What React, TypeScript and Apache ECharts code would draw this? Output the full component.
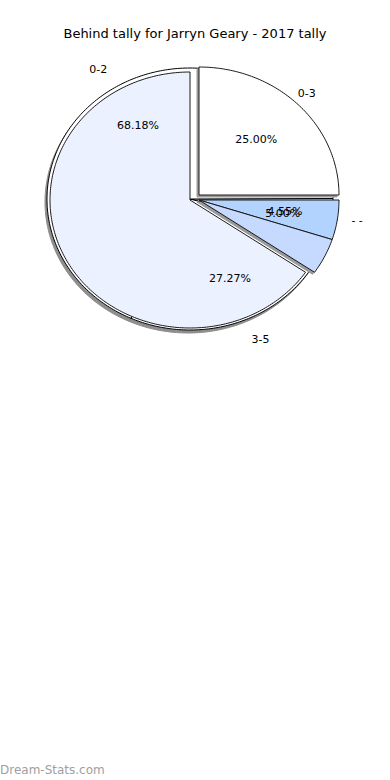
import React, { useEffect, useRef } from 'react';
import * as echarts from 'echarts';

const chartTitle = 'Behind tally for Jarryn Geary - 2017 tally';
const watermark = 'Dream-Stats.com';

// Front pie, clockwise from 12 o'clock (percent of a full turn)
const frontNames = ['0-3', '- -', '- -', '0-2'];
const frontShares = [25.0, 5.0, 4.55, 65.45];

// Back pie, clockwise from 3 o'clock (percent of a full turn)
const backNames = ['- -', '3-5', '0-2'];
const backShares = [4.55, 27.27, 68.18];

// Geometry and styling
const FRONT = { cx: 190, cy: 200, rx: 140, ry: 128, start: 90 };
const BACK = { cx: 190, cy: 199, rx: 143, ry: 131, start: 0.2 };
const frontColors = ['#ffffff', '#b3d3ff', '#c6daff', '#ebf1fe'];
const frontOffsets = [
  [9, -5],
  [9, 0],
  [9, 0],
  [0, 0],
];
const frontHasShadow = [true, true, true, false];
const frontPctShown = [true, true, false, false];
const frontNameShown = [true, false, false, false];
const PCT_R = 0.67;
const NAME_R = 1.18;
const LABEL_FONT = '11px "DejaVu Sans"';

type Arc = { from: number; to: number };

function toArcs(shares: number[], start: number): Arc[] {
  let a = start;
  return shares.map((s) => {
    const from = a;
    a -= s * 3.6;
    return { from, to: a };
  });
}

function sectorPoints(cx: number, cy: number, rx: number, ry: number, from: number, to: number) {
  const pts: number[][] = [[cx, cy]];
  const n = Math.max(2, Math.ceil(Math.abs(from - to)));
  for (let i = 0; i <= n; i++) {
    const t = ((from + ((to - from) * i) / n) * Math.PI) / 180;
    pts.push([cx + rx * Math.cos(t), cy - ry * Math.sin(t)]);
  }
  return pts;
}

function polarPoint(geo: typeof FRONT, angle: number, k: number) {
  const t = (angle * Math.PI) / 180;
  return [geo.cx + geo.rx * k * Math.cos(t), geo.cy - geo.ry * k * Math.sin(t)];
}

const frontArcs = toArcs(frontShares, FRONT.start);
const backArcs = toArcs(backShares, BACK.start);

type LabelSpec = { text: string; pos: number[] };

function buildLabels(): LabelSpec[] {
  const out: LabelSpec[] = [];
  backShares.forEach((v, i) => {
    const mid = (backArcs[i].from + backArcs[i].to) / 2;
    out.push({ text: v.toFixed(2) + '%', pos: polarPoint(BACK, mid, PCT_R) });
    out.push({ text: backNames[i], pos: polarPoint(BACK, mid, NAME_R) });
  });
  frontShares.forEach((v, i) => {
    const mid = (frontArcs[i].from + frontArcs[i].to) / 2;
    if (frontPctShown[i]) out.push({ text: v.toFixed(2) + '%', pos: polarPoint(FRONT, mid, PCT_R) });
    if (frontNameShown[i]) out.push({ text: frontNames[i], pos: polarPoint(FRONT, mid, NAME_R) });
  });
  return out;
}

export default function App() {
  const ref = useRef<HTMLDivElement>(null);

  useEffect(() => {
    if (!ref.current) return;
    const chart = echarts.init(ref.current, undefined, { renderer: 'svg' });
    const labels = buildLabels();

    const option: any = {
      animation: false,
      backgroundColor: '#ffffff',
      title: {
        text: chartTitle,
        left: 'center',
        top: 22,
        textStyle: { fontSize: 13, fontWeight: 'normal', fontFamily: 'DejaVu Sans', color: '#000' },
      },
      graphic: [
        {
          type: 'text',
          left: 0,
          top: 764,
          style: { text: watermark, font: '12px "DejaVu Sans"', fill: '#a0a0a0' },
        },
      ],
      series: [
        {
          type: 'custom',
          name: 'back-shadow',
          coordinateSystem: 'none',
          z: 1,
          silent: true,
          data: backShares.map((v, i) => ({ value: v, name: backNames[i] })),
          renderItem: (params: any) => {
            const a = backArcs[params.dataIndex];
            return {
              type: 'polygon',
              shape: { points: sectorPoints(BACK.cx - 2, BACK.cy + 3, BACK.rx, BACK.ry, a.from, a.to) },
              style: { fill: '#8e8e8e', stroke: '#8e8e8e', lineWidth: 1 },
            };
          },
        },
        {
          type: 'custom',
          name: 'back',
          coordinateSystem: 'none',
          z: 2,
          silent: true,
          data: backShares.map((v, i) => ({ value: v, name: backNames[i] })),
          renderItem: (params: any) => {
            const a = backArcs[params.dataIndex];
            return {
              type: 'polygon',
              shape: { points: sectorPoints(BACK.cx, BACK.cy, BACK.rx, BACK.ry, a.from, a.to) },
              style: { fill: '#ffffff', stroke: '#000000', lineWidth: 1 },
            };
          },
        },
        {
          type: 'custom',
          name: 'front-shadow',
          coordinateSystem: 'none',
          z: 3,
          silent: true,
          data: frontShares.map((v, i) => ({ value: v, name: frontNames[i] })),
          renderItem: (params: any) => {
            const i = params.dataIndex;
            if (!frontHasShadow[i]) return { type: 'group', children: [] };
            const a = frontArcs[i];
            const [ox, oy] = frontOffsets[i];
            return {
              type: 'polygon',
              shape: {
                points: sectorPoints(FRONT.cx + ox - 2, FRONT.cy + oy + 2, FRONT.rx, FRONT.ry, a.from, a.to),
              },
              style: { fill: '#9a9a9a', stroke: '#9a9a9a', lineWidth: 1 },
            };
          },
        },
        {
          type: 'custom',
          name: 'front',
          coordinateSystem: 'none',
          z: 4,
          silent: true,
          data: frontShares.map((v, i) => ({ value: v, name: frontNames[i] })),
          renderItem: (params: any) => {
            const i = params.dataIndex;
            const a = frontArcs[i];
            const [ox, oy] = frontOffsets[i];
            return {
              type: 'polygon',
              shape: { points: sectorPoints(FRONT.cx + ox, FRONT.cy + oy, FRONT.rx, FRONT.ry, a.from, a.to) },
              style: { fill: frontColors[i], stroke: '#1a1a1a', lineWidth: 1 },
            };
          },
        },
        {
          type: 'custom',
          name: 'labels',
          coordinateSystem: 'none',
          z: 5,
          silent: true,
          data: labels.map((l) => ({ value: 0, name: l.text })),
          renderItem: (params: any) => {
            const l = labels[params.dataIndex];
            return {
              type: 'text',
              style: {
                text: l.text,
                x: l.pos[0],
                y: l.pos[1],
                align: 'center',
                verticalAlign: 'middle',
                font: LABEL_FONT,
                fill: '#000000',
              },
            };
          },
        },
      ],
    };

    chart.setOption(option);
    return () => chart.dispose();
  }, []);

  return (
    <div
      ref={ref}
      style={{ position: 'fixed', left: 0, top: 0, width: 390, height: 780, background: '#fff' }}
    />
  );
}
